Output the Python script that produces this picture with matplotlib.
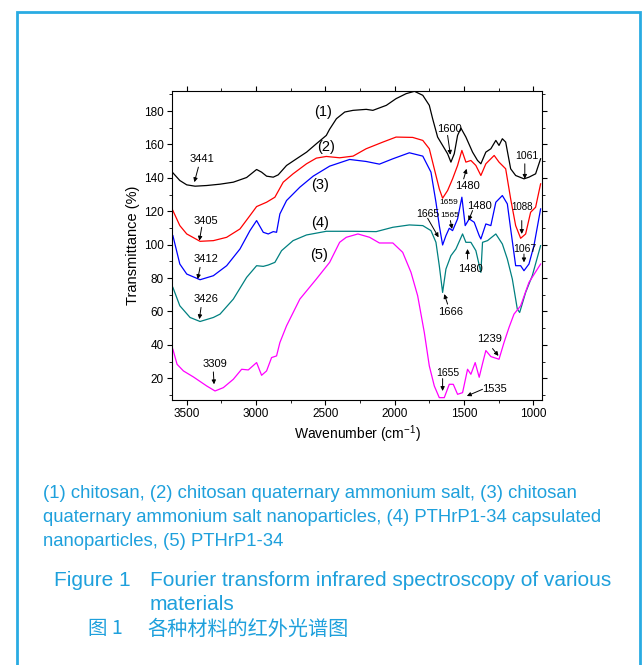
import numpy as np
import matplotlib
matplotlib.use('Agg')
import matplotlib.pyplot as plt
from matplotlib.patches import Rectangle

plt.rcParams['font.family'] = ['Liberation Sans', 'DejaVu Sans']
plt.rcParams['mathtext.default'] = 'regular'

# FTIR spectra (wavenumber cm-1, transmittance %)
wn1 = [3600, 3550, 3500, 3440, 3356, 3260, 3164, 3068, 2996, 2960, 2924, 2876, 2840, 2780,
       2708, 2635, 2565, 2493, 2470, 2420, 2360, 2300, 2205, 2157, 2060, 1990, 1917, 1857,
       1797, 1750, 1726, 1690, 1654, 1618, 1594, 1570, 1546, 1522, 1486, 1438, 1402, 1378,
       1342, 1306, 1270, 1247, 1223, 1199, 1163, 1127, 1067, 1031, 983, 947]
t1 = [143, 138.4, 135.8, 135, 135.4, 136.2, 137.4, 140.2, 145, 143.4, 141, 140.4, 141.8, 147.4,
      151.4, 155.4, 160.4, 165.4, 169, 175.4, 179.4, 180.4, 181, 180.4, 183.4, 187.4, 190.4, 191.8,
      189.4, 183.4, 175.4, 164.4, 159.4, 154.4, 149.4, 154.4, 165.4, 169.8, 164.4, 155.4, 150.4, 148.4,
      155.4, 157.4, 162.4, 159.4, 163.4, 161.4, 145.4, 141.4, 139.4, 140.4, 142.4, 151.4]

wn2 = [3600, 3550, 3500, 3404, 3308, 3212, 3116, 3044, 2996, 2924, 2864, 2804, 2733, 2636,
       2565, 2493, 2397, 2300, 2206, 2085, 1990, 1870, 1797, 1750, 1714, 1678, 1654, 1618,
       1582, 1546, 1515, 1486, 1450, 1414, 1378, 1342, 1282, 1247, 1199, 1163, 1127, 1091,
       1055, 1019, 983, 947]
t2 = [120.4, 111.4, 106.4, 102, 102.4, 104.4, 109.4, 117.4, 122.8, 125.4, 128.4, 137.4, 142.4, 148.4,
      151.8, 152.8, 152, 153, 157.4, 161.4, 164.4, 164.2, 162.4, 157.4, 145.4, 133.4, 127.8, 132.4,
      139.4, 147.4, 156.4, 149.4, 150.4, 147.4, 141.4, 148.4, 153.4, 149.4, 145.4, 127.4, 111.4, 103.8,
      106.4, 119.4, 122.4, 136.4]

wn3 = [3600, 3550, 3500, 3404, 3308, 3212, 3116, 3044, 2996, 2948, 2912, 2876, 2852, 2828,
       2780, 2684, 2588, 2469, 2325, 2206, 2110, 2013, 1894, 1797, 1738, 1702, 1678, 1654,
       1630, 1606, 1582, 1546, 1515, 1491, 1462, 1426, 1390, 1378, 1342, 1306, 1270, 1223,
       1187, 1163, 1127, 1091, 1067, 1031, 995, 947]
t3 = [105.4, 88.4, 82.4, 79, 81.4, 87.4, 97.4, 108.4, 114.4, 107.4, 106.4, 107.8, 107.4, 118.4,
      126.4, 134.4, 141, 147, 151, 149.8, 148.2, 151.4, 155, 153, 143.4, 125.4, 111.4, 99.8,
      105.4, 109.8, 108.4, 115.4, 128.4, 111.4, 115.4, 113.4, 105.4, 103.4, 112.4, 111.4, 125.4, 129.4,
      124.4, 109.4, 87.4, 87.4, 84.4, 88.4, 99.4, 121.4]

wn4 = [3600, 3550, 3476, 3404, 3308, 3260, 3164, 3068, 2996, 2948, 2912, 2864, 2816, 2733,
       2636, 2493, 2300, 2133, 2013, 1894, 1797, 1738, 1702, 1678, 1654, 1630, 1594, 1558,
       1510, 1486, 1450, 1414, 1378, 1366, 1330, 1270, 1223, 1187, 1151, 1115, 1098, 1055,
       1007, 947]
t4 = [74.4, 63.4, 56.4, 54, 56.4, 58.4, 67.4, 80.4, 87.4, 87, 87.8, 89.4, 96.4, 102.4,
      105.8, 108, 108, 107.8, 110.4, 111.8, 111.4, 108.4, 101.4, 87.4, 71.4, 85.4, 93.4, 97.4,
      106.4, 101.4, 101.4, 96.4, 83.4, 101.4, 102.4, 106.4, 100.4, 91.4, 79.4, 61.4, 59.4, 71.4,
      81.4, 99.4]

wn5 = [3600, 3570, 3524, 3452, 3356, 3296, 3236, 3164, 3104, 3056, 2996, 2960, 2924, 2888,
       2852, 2828, 2780, 2684, 2565, 2469, 2397, 2349, 2265, 2181, 2110, 2013, 1942, 1882,
       1834, 1786, 1750, 1714, 1678, 1642, 1606, 1577, 1546, 1510, 1474, 1450, 1419, 1390,
       1366, 1342, 1306, 1247, 1211, 1175, 1139, 1091, 1031, 947]
t5 = [37.4, 28.4, 24.4, 20.8, 15.4, 12.4, 14.4, 19.4, 25.4, 25, 29.4, 21.8, 24.4, 32.4,
      33.4, 41.4, 51.4, 67.4, 79.4, 89.4, 101.4, 104.4, 106.4, 104.4, 101, 101, 95.4, 83.4,
      69.4, 47.4, 27.4, 15.4, 8.4, 8.4, 16.4, 16.4, 10.4, 11.4, 25.4, 22.4, 29.4, 20.6,
      28.8, 36.6, 33, 31.4, 41.4, 50.4, 58.4, 63.4, 77.4, 88.4]

curve_labels = ['(1)', '(2)', '(3)', '(4)', '(5)']
curve_label_pos = [(2517, 179.4), (2493, 158.4), (2536, 135.8), (2541, 112.8), (2548, 93.8)]

# peak labels: text, text position, arrow start, arrow end, font size
peak_text = ['3441', '3405', '3412', '3426', '3309', '1600', '1480', '1061', '1565',
             '1665', '1480', '1088', '1067', '1480', '1666', '1239', '1655', '1535']
peak_xy = [(3392, 151.4), (3361, 114.4), (3361, 91.4), (3361, 67.4), (3296, 28.8),
           (1602, 169.4), (1478, 135), (1047, 153), (1602, 117.4), (1762, 118.4),
           (1385, 123.4), (1083, 122.4), (1059, 97.4), (1454, 85.4), (1594, 59.4),
           (1318, 43.8), (1618, 23.4), (1282, 13.4)]
arrow_from = [(3416, 146.4), (3392, 110.4), (3404, 86.4), (3397, 62.4), (3308, 23.8),
              (1618, 165.4), (1502, 139.4), (1061, 148.4), (1598, 114.4), (1762, 115.8),
              (1438, 120.4), (1083, 114.4), (1067, 94.4), (1474, 91.4), (1618, 64.4),
              (1294, 37.8), (1654, 19.8), (1366, 13.4)]
arrow_to = [(3445, 137.4), (3409, 102.4), (3421, 79.4), (3409, 55.4), (3303, 16.4),
            (1598, 153.8), (1481, 145.4), (1061, 139.4), (1586, 109.4), (1683, 104.4),
            (1467, 114.4), (1083, 106.4), (1067, 89.4), (1474, 97.4), (1642, 70.4),
            (1251, 33.4), (1654, 12.4), (1479, 9.4)]
peak_fs = [8, 8, 8, 8, 8, 8, 8, 7.5, 6, 7.5, 8, 7, 7.5, 8, 8, 8, 7.5, 8]

fig = plt.figure(figsize=(6.42, 6.65), dpi=100)
ax = fig.add_axes([0.268, 0.3985, 0.576, 0.4647])

colors = ['black', 'red', 'blue', '#008080', '#ff00ff']
for wn, t, c in zip([wn1, wn2, wn3, wn4, wn5], [t1, t2, t3, t4, t5], colors):
    ax.plot(wn, t, color=c, lw=0.9)

for lab, (x, y) in zip(curve_labels, curve_label_pos):
    ax.text(x, y, lab, fontsize=10.5, ha='center', va='center')

ax.text(1610, 125, '1659', fontsize=6, ha='center', va='center')
for s, p, a0, a1, fs in zip(peak_text, peak_xy, arrow_from, arrow_to, peak_fs):
    ax.text(p[0], p[1], s, fontsize=fs, ha='center', va='center')
    ax.annotate('', xy=a1, xytext=a0,
                arrowprops=dict(arrowstyle='-|>', color='black', lw=0.7,
                                mutation_scale=6, shrinkA=0, shrinkB=0))

ax.set_xlim(3606, 938)
ax.set_ylim(7, 192)
ax.set_xticks([3500, 3000, 2500, 2000, 1500, 1000])
ax.set_xticks(np.arange(1250, 3600, 500), minor=True)
ax.set_yticks(np.arange(20, 181, 20))
ax.set_yticks(np.arange(10, 191, 10), minor=True)
ax.tick_params(which='both', labelsize=8.5, direction='out', top=True, right=True)
ax.tick_params(which='major', length=3.5, pad=2.5)
ax.tick_params(which='minor', length=2)
ax.set_xlabel('Wavenumber (cm$^{-1}$)', fontsize=10, labelpad=2)
ax.set_ylabel('Transmittance (%)', fontsize=10.5, labelpad=3)

# frame and caption
cap = '#1ea0dc'
fig.patches.append(Rectangle((17 / 642, -0.02), 623 / 642, 1.02 - 12 / 665,
                             transform=fig.transFigure, fill=False,
                             edgecolor='#29abe2', lw=2))
legend_lines = ['(1) chitosan, (2) chitosan quaternary ammonium salt, (3) chitosan',
                'quaternary ammonium salt nanoparticles, (4) PTHrP1-34 capsulated',
                'nanoparticles, (5) PTHrP1-34']
for i, line in enumerate(legend_lines):
    fig.text(43 / 642, 1 - (493 + 24 * i) / 665, line, fontsize=13.3, color=cap, va='center')
fig.text(54 / 642, 1 - 581 / 665, 'Figure 1', fontsize=15, color=cap, va='center')
fig.text(150 / 642, 1 - 581 / 665, 'Fourier transform infrared spectroscopy of various',
         fontsize=15, color=cap, va='center')
fig.text(150 / 642, 1 - 604 / 665, 'materials', fontsize=15, color=cap, va='center')
cjk = ['Noto Sans CJK SC', 'DejaVu Sans']
fig.text(88 / 642, 1 - 629 / 665, '图 1', fontsize=14, color=cap, va='center', family=cjk)
fig.text(147 / 642, 1 - 629 / 665, '各种材料的红外光谱图', fontsize=14.5, color=cap,
         va='center', family=cjk)

fig.savefig('out.png', dpi=100)
